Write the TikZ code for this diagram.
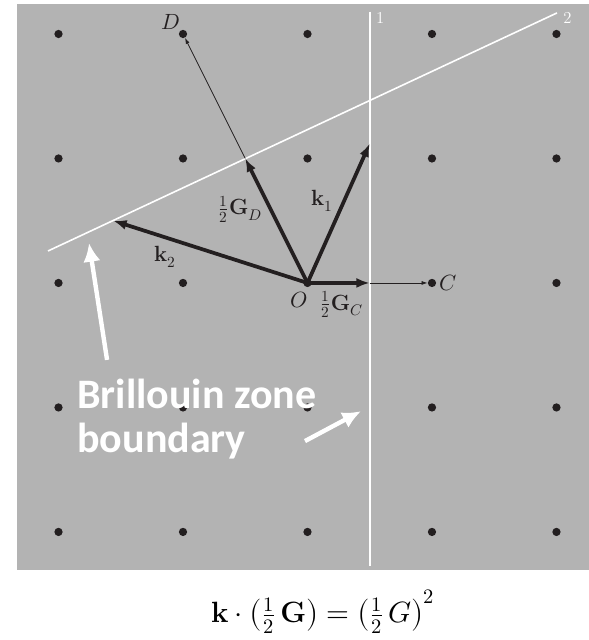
\documentclass[tikz,border=0pt]{standalone}
\usepackage{fontspec}
\usepackage{amsmath}
\usepackage{unicode-math}
\usetikzlibrary{arrows.meta,positioning}
\newfontfamily\zonefont{Carlito}
\definecolor{panel}{HTML}{B3B3B3}
\definecolor{ink}{HTML}{231F20}
\tikzset{
  latdot/.style={circle,fill=ink,inner sep=0pt,minimum size=6.2pt},
  wave/.style={-{Latex[length=10pt,width=7.5pt]},line width=2.8pt,draw=ink},
  thinarrow/.style={-{Latex[length=4.5pt,width=3pt]},line width=0.6pt,draw=ink},
  plane/.style={draw=white,line width=1.2pt},
  pointer/.style={-{Latex[length=14pt,width=13pt]},line width=3.3pt,draw=white},
  lbl/.style={font=\fontsize{16.5}{19}\selectfont,text=ink,inner sep=1pt},
  planelbl/.style={font=\fontsize{12.5}{14}\selectfont,text=white,inner sep=0pt},
  zonelbl/.style={font=\zonefont\bfseries\fontsize{31.5}{33}\selectfont,text=white,align=left,inner sep=0pt}
}
\begin{document}
\begin{tikzpicture}[x=93.4pt,y=93.4pt]
  \useasboundingbox (-2.47,-2.868) rectangle (2.261,2.273);
  \fill[panel] (-2.333,-2.305) rectangle (2.261,2.237);

  % reciprocal lattice
  \foreach \i in {0,...,4}
    \foreach \j in {0,...,4}
      \node[latdot] (p\i\j) at (\i-2,\j-2) {};

  % zone boundaries
  \coordinate (b1top) at (0.5,2.18);
  \coordinate (b1bot) at (0.5,-2.27);
  \coordinate (b2left) at (-2.084,0.257);
  \coordinate (b2right) at (2.004,2.169);
  \draw[plane] (b1top) -- (b1bot);
  \draw[plane] (b2left) -- (b2right);
  \node[planelbl] (n1) at (0.584,2.132) {1};
  \node[planelbl] (n2) at (2.088,2.132) {2};

  % wave vectors
  \coordinate (gd) at (-0.5,1);
  \coordinate (gc) at (0.5,0);
  \coordinate (k1tip) at (0.5,1.12);
  \coordinate (k2tip) at (-1.56,0.50);
  \draw[thinarrow] (gd) -- (p14);
  \draw[thinarrow] (gc) -- (p32);
  \draw[wave] (p22.center) -- (gd);
  \draw[wave] (p22.center) -- (gc);
  \draw[wave] (p22.center) -- (k1tip);
  \draw[wave] (p22.center) -- (k2tip);

  \node[lbl] (dlbl) at (-1.097,2.096) {$D$};
  \node[lbl,right=1pt of p32] (clbl) {$C$};
  \node[lbl] (olbl) at (-0.068,-0.133) {$O$};
  \node[lbl] (gclbl) at (0.273,-0.173) {$\frac{1}{2}\mathbf{G}_C$};
  \node[lbl] (gdlbl) at (-0.542,0.594) {$\frac{1}{2}\mathbf{G}_D$};
  \node[lbl] (k1lbl) at (0.116,0.659) {$\mathbf{k}_1$};
  \node[lbl] (k2lbl) at (-1.145,0.209) {$\mathbf{k}_2$};

  % callout
  \node[zonelbl,anchor=base west] (zone) at (-1.851,-1.365) {Brillouin zone\\boundary};
  \coordinate (ptail1) at (-1.61,-0.618);
  \coordinate (phead1) at (-1.755,0.321);
  \coordinate (ptail2) at (-0.02,-1.27);
  \coordinate (phead2) at (0.43,-1.03);
  \draw[pointer] (ptail1) -- (phead1);
  \draw[pointer] (ptail2) -- (phead2);

  \node[anchor=base,font=\fontsize{22}{26}\selectfont,inner sep=0pt] (law) at (0.124,-2.731)
    {$\mathbf{k}\cdot\bigl(\frac{1}{2}\,\mathbf{G}\bigr) = \bigl(\frac{1}{2}\,G\bigr)^{2}$};
\end{tikzpicture}
\end{document}
